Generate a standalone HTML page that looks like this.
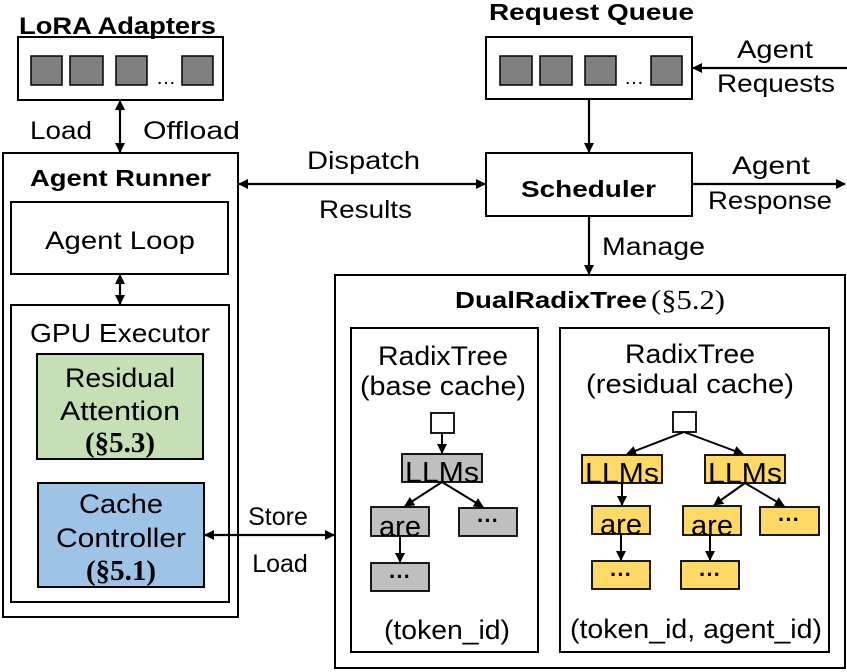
<!DOCTYPE html>
<html><head><meta charset="utf-8"><style>html,body{margin:0;padding:0;background:#fff}svg{display:block}</style></head>
<body>
<svg width="847" height="672" viewBox="0 0 847 672" xmlns="http://www.w3.org/2000/svg" font-family="'Liberation Sans', sans-serif" fill="#000">
<defs>
<marker id="a" markerWidth="10" markerHeight="10" refX="9" refY="5" orient="auto-start-reverse" markerUnits="userSpaceOnUse">
<path d="M0,0 L10,5 L0,10 z" fill="#000"/></marker>
</defs>
<g stroke="#000" stroke-width="2" fill="none">
<rect x="18" y="37" width="205" height="63"/>
<rect x="3" y="153" width="235" height="464"/>
<rect x="11" y="202" width="217" height="72"/>
<rect x="11" y="305" width="218" height="297"/>
<rect x="37" y="354" width="166" height="105" fill="#c5e0b4"/>
<rect x="38" y="483" width="166" height="104" fill="#9dc3e6"/>
<rect x="486" y="37" width="206" height="62"/>
<rect x="486" y="153" width="206" height="63"/>
<rect x="335" y="275" width="510" height="393"/>
<rect x="351" y="328" width="187" height="324"/>
<rect x="560" y="328" width="269" height="324"/>
</g>
<g fill="#808080" stroke="#000" stroke-width="1.5">
<rect x="31" y="56" width="31" height="29"/><rect x="70" y="56" width="33" height="29"/><rect x="116" y="56" width="31" height="29"/><rect x="182" y="56" width="31" height="29"/>
<rect x="500" y="56" width="32" height="29"/><rect x="540" y="56" width="32" height="29"/><rect x="585" y="56" width="31" height="29"/><rect x="651" y="56" width="31" height="29"/>
</g>
<text x="166" y="84" font-size="20" text-anchor="middle">…</text>
<text x="634" y="84" font-size="20" text-anchor="middle">…</text>
<g stroke="#000" stroke-width="2.2" fill="none">
<line x1="120" y1="101" x2="120" y2="152" marker-start="url(#a)" marker-end="url(#a)"/>
<line x1="120" y1="275" x2="120" y2="304" marker-start="url(#a)" marker-end="url(#a)"/>
<line x1="239" y1="184" x2="485" y2="184" marker-start="url(#a)" marker-end="url(#a)"/>
<line x1="205" y1="535" x2="334" y2="535" marker-start="url(#a)" marker-end="url(#a)"/>
<line x1="847" y1="68" x2="693" y2="68" marker-end="url(#a)"/>
<line x1="589" y1="100" x2="589" y2="152" marker-end="url(#a)"/>
<line x1="692" y1="184" x2="845" y2="184" marker-end="url(#a)"/>
<line x1="589" y1="217" x2="589" y2="274" marker-end="url(#a)"/>
</g>
<text x="19" y="34" font-size="24" font-weight="bold" textLength="197" lengthAdjust="spacingAndGlyphs">LoRA Adapters</text>
<text x="489" y="20" font-size="23" font-weight="bold" textLength="205" lengthAdjust="spacingAndGlyphs">Request Queue</text>
<text x="30" y="139" font-size="25" textLength="62" lengthAdjust="spacingAndGlyphs">Load</text>
<text x="143" y="139" font-size="25" textLength="97" lengthAdjust="spacingAndGlyphs">Offload</text>
<text x="30" y="186" font-size="23" font-weight="bold" textLength="181" lengthAdjust="spacingAndGlyphs">Agent Runner</text>
<text x="120" y="249" font-size="25" text-anchor="middle" textLength="150" lengthAdjust="spacingAndGlyphs">Agent Loop</text>
<text x="307" y="169" font-size="25" textLength="113" lengthAdjust="spacingAndGlyphs">Dispatch</text>
<text x="319" y="218" font-size="25" textLength="93" lengthAdjust="spacingAndGlyphs">Results</text>
<text x="737" y="58" font-size="25" textLength="76" lengthAdjust="spacingAndGlyphs">Agent</text>
<text x="717" y="92" font-size="25" textLength="118" lengthAdjust="spacingAndGlyphs">Requests</text>
<text x="521" y="197" font-size="23" font-weight="bold" textLength="135" lengthAdjust="spacingAndGlyphs">Scheduler</text>
<text x="732" y="174" font-size="25" textLength="78" lengthAdjust="spacingAndGlyphs">Agent</text>
<text x="708" y="209" font-size="25" textLength="124" lengthAdjust="spacingAndGlyphs">Response</text>
<text x="602" y="255" font-size="25" textLength="103" lengthAdjust="spacingAndGlyphs">Manage</text>
<text x="455" y="308" font-size="23" font-weight="bold" textLength="192" lengthAdjust="spacingAndGlyphs">DualRadixTree</text>
<text x="651" y="309" font-size="27" font-family="'Liberation Serif', serif" textLength="74" lengthAdjust="spacingAndGlyphs">(§5.2)</text>
<text x="120" y="342" font-size="26" text-anchor="middle" textLength="180" lengthAdjust="spacingAndGlyphs">GPU Executor</text>
<text x="120" y="387" font-size="27" text-anchor="middle" textLength="110" lengthAdjust="spacingAndGlyphs">Residual</text>
<text x="120" y="420" font-size="27" text-anchor="middle" textLength="120" lengthAdjust="spacingAndGlyphs">Attention</text>
<text x="120" y="452" font-size="29" text-anchor="middle" font-weight="bold" font-family="'Liberation Serif', serif" textLength="70" lengthAdjust="spacingAndGlyphs">(§5.3)</text>
<text x="121" y="513" font-size="27" text-anchor="middle" textLength="84" lengthAdjust="spacingAndGlyphs">Cache</text>
<text x="121" y="547" font-size="27" text-anchor="middle" textLength="130" lengthAdjust="spacingAndGlyphs">Controller</text>
<text x="121" y="580" font-size="29" text-anchor="middle" font-weight="bold" font-family="'Liberation Serif', serif" textLength="70" lengthAdjust="spacingAndGlyphs">(§5.1)</text>
<text x="278" y="525" font-size="25" text-anchor="middle">Store</text>
<text x="280" y="572" font-size="25" text-anchor="middle">Load</text>
<text x="443" y="365" font-size="27" text-anchor="middle" textLength="130" lengthAdjust="spacingAndGlyphs">RadixTree</text>
<text x="443" y="395" font-size="27" text-anchor="middle" textLength="166" lengthAdjust="spacingAndGlyphs">(base cache)</text>
<text x="690" y="363" font-size="27" text-anchor="middle" textLength="130" lengthAdjust="spacingAndGlyphs">RadixTree</text>
<text x="690" y="393" font-size="27" text-anchor="middle" textLength="208" lengthAdjust="spacingAndGlyphs">(residual cache)</text>
<text x="447" y="639" font-size="27" text-anchor="middle" textLength="126" lengthAdjust="spacingAndGlyphs">(token_id)</text>
<text x="696" y="638" font-size="27" text-anchor="middle" textLength="252" lengthAdjust="spacingAndGlyphs">(token_id, agent_id)</text>
<g stroke="#000" stroke-width="1.8">
<rect x="431" y="413" width="23" height="20" fill="#fff"/>
<rect x="402" y="454" width="80" height="28" fill="#bfbfbf"/>
<rect x="371" y="507" width="58" height="29" fill="#bfbfbf"/>
<rect x="459" y="508" width="58" height="28" fill="#bfbfbf"/>
<rect x="371" y="563" width="58" height="28" fill="#bfbfbf"/>
<rect x="673" y="412" width="23" height="20" fill="#fff"/>
<rect x="582" y="455" width="80" height="28" fill="#ffd966"/>
<rect x="705" y="455" width="80" height="28" fill="#ffd966"/>
<rect x="592" y="506" width="58" height="28" fill="#ffd966"/>
<rect x="683" y="506" width="58" height="29" fill="#ffd966"/>
<rect x="760" y="507" width="59" height="28" fill="#ffd966"/>
<rect x="592" y="561" width="58" height="28" fill="#ffd966"/>
<rect x="681" y="561" width="58" height="28" fill="#ffd966"/>
</g>
<g stroke="#000" stroke-width="2" fill="none">
<line x1="442" y1="433" x2="442" y2="453" marker-end="url(#a)"/>
<line x1="442" y1="482" x2="405" y2="506" marker-end="url(#a)"/>
<line x1="442" y1="482" x2="483" y2="507" marker-end="url(#a)"/>
<line x1="400" y1="536" x2="400" y2="562" marker-end="url(#a)"/>
<line x1="684" y1="432" x2="627" y2="454" marker-end="url(#a)"/>
<line x1="684" y1="432" x2="743" y2="454" marker-end="url(#a)"/>
<line x1="622" y1="483" x2="622" y2="505" marker-end="url(#a)"/>
<line x1="745" y1="483" x2="714" y2="505" marker-end="url(#a)"/>
<line x1="745" y1="483" x2="784" y2="506" marker-end="url(#a)"/>
<line x1="621" y1="534" x2="621" y2="560" marker-end="url(#a)"/>
<line x1="710" y1="535" x2="710" y2="560" marker-end="url(#a)"/>
</g>
<g font-size="29" text-anchor="middle">
<text x="442" y="482" textLength="74" lengthAdjust="spacingAndGlyphs">LLMs</text>
<text x="400" y="536">are</text>
<text x="622" y="483" textLength="74" lengthAdjust="spacingAndGlyphs">LLMs</text>
<text x="745" y="483" textLength="74" lengthAdjust="spacingAndGlyphs">LLMs</text>
<text x="621" y="534">are</text>
<text x="712" y="535">are</text>
</g>
<g font-size="22" font-weight="bold" text-anchor="middle">
<text x="488" y="528">···</text>
<text x="400" y="584">···</text>
<text x="789" y="527">···</text>
<text x="621" y="582">···</text>
<text x="710" y="582">···</text>
</g>
</svg>
</body></html>
